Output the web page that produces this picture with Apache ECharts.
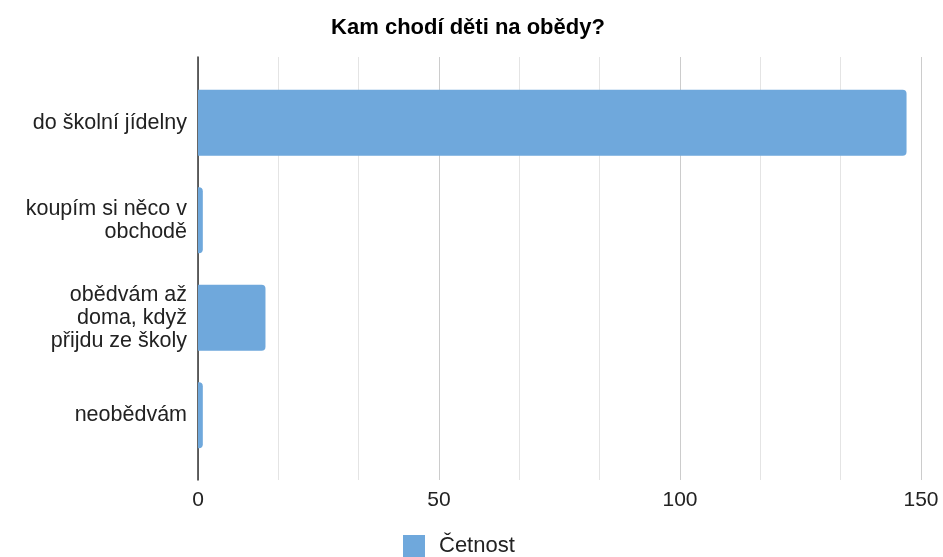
<!DOCTYPE html>
<html lang="cs">
<head>
    <meta charset="UTF-8">
    <title>Kam chodí děti na obědy?</title>
    <script src="https://cdn.jsdelivr.net/npm/echarts@6/dist/echarts.min.js"></script>
    <style>
        * { padding: 0; margin: 0; }
        html, body { width: 100%; height: 100%; background: #fff; }
        #chart { width: 943px; height: 557px; }
    </style>
</head>
<body>
    <div id="chart"></div>
</body>
</html>
<script>
    let categories = ['do školní jídelny', 'koupím si něco v\nobchodě', 'obědvám až\ndoma, když\npřijdu ze školy', 'neobědvám'];
    let cetnost = [147, 1, 14, 1];
    let xTicks = [0, 50, 100, 150];

    let font = 'Liberation Sans, Arial, sans-serif';
    let myChart = echarts.init(document.getElementById('chart'));

    let option = {
        title: {
            text: 'Kam chodí děti na obědy?',
            left: 463,
            textAlign: 'center',
            top: 12,
            textStyle: { fontFamily: font, fontSize: 22, fontWeight: 'bold', color: '#000' }
        },
        legend: {
            top: 535,
            left: 403,
            padding: 0,
            icon: 'rect',
            itemWidth: 22,
            itemHeight: 22,
            textStyle: { fontFamily: font, fontSize: 22, color: '#222', padding: [0, 0, 0, 9] },
            data: ['Četnost']
        },
        grid: [
            // grid with the gridlines and x labels (taller)
            { left: 198, right: 22, top: 57, bottom: 77 },
            // grid with the bars
            { left: 198, right: 22, top: 74, bottom: 93 }
        ],
        xAxis: [
            {
                gridIndex: 0,
                type: 'value',
                min: xTicks[0],
                max: xTicks[xTicks.length - 1],
                interval: 50,
                axisLine: { show: false },
                axisTick: { show: false },
                axisLabel: { fontFamily: font, fontSize: 21, color: '#222', margin: 10 },
                splitLine: { lineStyle: { color: '#cccccc', width: 1 } },
                minorTick: { show: false, splitNumber: 3 },
                minorSplitLine: { show: true, lineStyle: { color: '#e4e4e4', width: 1 } }
            },
            {
                gridIndex: 1,
                type: 'value',
                min: 0,
                max: 150,
                show: false
            }
        ],
        yAxis: [
            {
                gridIndex: 0,
                type: 'category',
                data: [''],
                axisLine: { show: true, lineStyle: { color: '#333', width: 1.5 } },
                axisTick: { show: false },
                axisLabel: { show: false }
            },
            {
                gridIndex: 1,
                type: 'category',
                inverse: true,
                data: categories,
                axisLine: { show: false },
                axisTick: { show: false },
                axisLabel: {
                    fontFamily: font,
                    fontSize: 21.5,
                    color: '#222',
                    lineHeight: 23,
                    align: 'right',
                    margin: 11
                }
            }
        ],
        series: [
            {
                name: 'Četnost',
                type: 'bar',
                xAxisIndex: 1,
                yAxisIndex: 1,
                barWidth: 66,
                itemStyle: { color: '#6fa8dc', borderRadius: [0, 4, 4, 0] },
                data: cetnost
            }
        ]
    };
    myChart.setOption(option);
</script>
